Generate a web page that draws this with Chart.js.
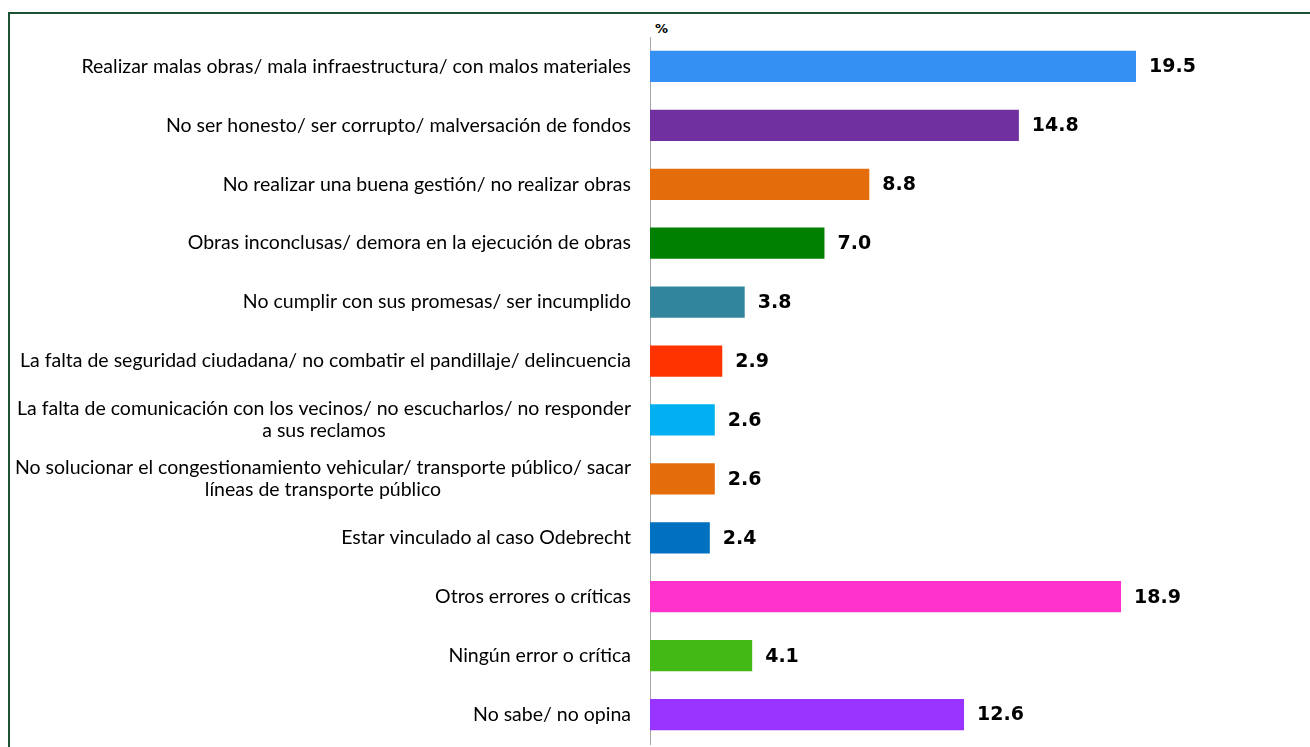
<!DOCTYPE html>
<html>
<head>
<meta charset="utf-8">
<script src="https://cdn.jsdelivr.net/npm/chart.js@4/dist/chart.umd.min.js"></script>
<style>
    html, body { margin: 0; padding: 0; background: #fff; }
    #wrap { position: relative; width: 1310px; height: 747px; overflow: hidden; }
    #frame { position: absolute; left: 8px; top: 12px; width: 1400px; height: 800px;
             border-left: 2px solid #1b5233; border-top: 2px solid #1b5233; box-sizing: border-box; }
    #pct { position: absolute; left: 655px; top: 21px; font: bold 13px "DejaVu Sans", sans-serif; color: #000; }
    canvas { position: absolute; left: 0; top: 0; }
</style>
</head>
<body>
<div id="wrap">
    <div id="frame"></div>
    <div id="pct">%</div>
    <canvas id="errorsChart" width="1310" height="747"></canvas>
</div>
<script>
const categories = [
    ['Realizar malas obras/ mala infraestructura/ con malos materiales'],
    ['No ser honesto/ ser corrupto/ malversación de fondos'],
    ['No realizar una buena gestión/ no realizar obras'],
    ['Obras inconclusas/ demora en la ejecución de obras'],
    ['No cumplir con sus promesas/ ser incumplido'],
    ['La falta de seguridad ciudadana/ no combatir el pandillaje/ delincuencia'],
    ['La falta de comunicación con los vecinos/ no escucharlos/ no responder', 'a sus reclamos'],
    ['No solucionar el congestionamiento vehicular/ transporte público/ sacar', 'líneas de transporte público'],
    ['Estar vinculado al caso Odebrecht'],
    ['Otros errores o críticas'],
    ['Ningún error o crítica'],
    ['No sabe/ no opina']
];
const values = [19.5, 14.8, 8.8, 7.0, 3.8, 2.9, 2.6, 2.6, 2.4, 18.9, 4.1, 12.6];
const barColors = [
    '#3590f3', '#7030a0', '#e46c0a', '#008000', '#31859c', '#ff3300',
    '#00b0f0', '#e46c0a', '#0070c0', '#ff33cc', '#43b916', '#9933ff'
];

// category labels: right aligned, wrapped lines centred on each other
const categoryLabels = {
    id: 'categoryLabels',
    afterDraw(chart) {
        const ctx = chart.ctx;
        const yScale = chart.scales.y;
        const right = chart.chartArea.left - 19;
        ctx.save();
        ctx.font = '19.5px Lato, sans-serif';
        ctx.fillStyle = '#000';
        ctx.textBaseline = 'middle';
        ctx.textAlign = 'center';
        categories.forEach((lines, i) => {
            const y = yScale.getPixelForValue(i);
            const maxW = Math.max(...lines.map(l => ctx.measureText(l).width));
            const cx = right - maxW / 2;
            const lh = 22;
            const top = y - (lines.length - 1) * lh / 2;
            lines.forEach((l, j) => ctx.fillText(l, cx, top + j * lh));
        });
        ctx.restore();
    }
};

const valueLabels = {
    id: 'valueLabels',
    afterDatasetsDraw(chart) {
        const ctx = chart.ctx;
        const meta = chart.getDatasetMeta(0);
        ctx.save();
        ctx.font = 'bold 19px "DejaVu Sans", sans-serif';
        ctx.fillStyle = '#000';
        ctx.textBaseline = 'middle';
        ctx.textAlign = 'left';
        meta.data.forEach((bar, i) => {
            ctx.fillText(values[i].toFixed(1), bar.x + 13, bar.y + 1);
        });
        ctx.restore();
    }
};

new Chart(document.getElementById('errorsChart').getContext('2d'), {
    type: 'bar',
    data: {
        labels: categories.map(c => c.join(' ')),
        datasets: [{
            data: values,
            backgroundColor: barColors,
            categoryPercentage: 1,
            barPercentage: 0.53
        }]
    },
    options: {
        indexAxis: 'y',
        responsive: false,
        animation: false,
        layout: { padding: { left: 642, top: 37, right: 12, bottom: 3 } },
        plugins: { legend: { display: false }, tooltip: { enabled: false } },
        scales: {
            x: { display: false, min: 0, max: 26 },
            y: {
                ticks: { display: false },
                grid: { display: false },
                border: { display: true, color: '#a6a6a6', width: 1 }
            }
        }
    },
    plugins: [categoryLabels, valueLabels]
});
</script>
</body>
</html>
